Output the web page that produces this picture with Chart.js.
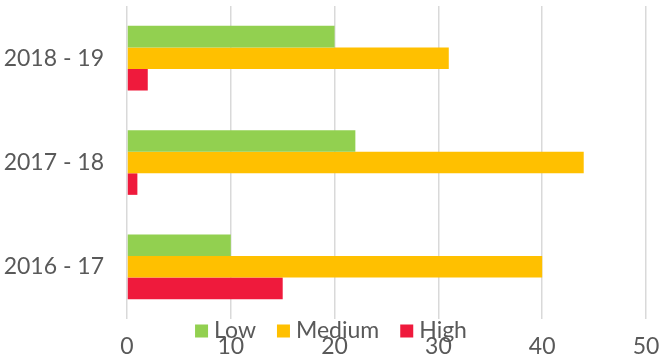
<!DOCTYPE html>
<html>
<head>
<meta charset="utf-8">
<script src="https://cdn.jsdelivr.net/npm/chart.js@4/dist/chart.umd.min.js"></script>
<style>
  body { margin: 0; background: #fff; }
  #wrap { width: 662px; height: 362px; }
</style>
</head>
<body>
<div id="wrap"><canvas id="chart" width="662" height="362"></canvas></div>
<script>
// Data
const years = ['2018 - 19', '2017 - 18', '2016 - 17'];
const lowValues = [20, 22, 10];
const mediumValues = [31, 44, 40];
const highValues = [2, 1, 15];
const xTicks = [0, 10, 20, 30, 40, 50];

const FONT = 'Lato, "Open Sans", sans-serif';
const TEXT = '#595959';

/**
 * Legend drawn over the bottom of the chart (it overlaps the x tick labels in the original)
 */
const overlayLegend = {
    id: 'overlayLegend',
    afterDraw(chart) {
        const ctx = chart.ctx;
        const box = 13, gap = 6, spacing = 21;
        ctx.save();
        ctx.font = '23px ' + FONT;
        ctx.textBaseline = 'middle';
        const items = chart.data.datasets.map(ds => ({
            label: ds.label,
            color: ds.backgroundColor,
            w: box + gap + ctx.measureText(ds.label).width
        }));
        const total = items.reduce((a, it) => a + it.w, 0) + spacing * (items.length - 1);
        let x = chart.width / 2 - total / 2;
        const y = 331;
        items.forEach(it => {
            ctx.fillStyle = it.color;
            ctx.fillRect(x, y - box / 2, box, box);
            ctx.fillStyle = TEXT;
            ctx.fillText(it.label, x + box + gap, y);
            x += it.w + spacing;
        });
        ctx.restore();
    }
};

// keep the chart area where the original has it: no extra room for label overhang
function noOverhang(scale) {
    scale.paddingTop = 0;
    scale.paddingBottom = 0;
    scale.paddingLeft = 0;
    scale.paddingRight = 0;
}

new Chart(document.getElementById('chart').getContext('2d'), {
    type: 'bar',
    data: {
        labels: years,
        datasets: [
            { label: 'Low', data: lowValues, backgroundColor: '#92d050' },
            { label: 'Medium', data: mediumValues, backgroundColor: '#ffc000' },
            { label: 'High', data: highValues, backgroundColor: '#ef1a3c' }
        ]
    },
    options: {
        indexAxis: 'y',
        responsive: false,
        animation: false,
        barPercentage: 1,
        categoryPercentage: 0.62,
        layout: { padding: { top: 6, right: 16, left: 0, bottom: 0 } },
        plugins: {
            legend: { display: false },
            tooltip: { enabled: false }
        },
        scales: {
            x: {
                min: 0,
                max: 50,
                afterBuildTicks: scale => { scale.ticks = xTicks.map(v => ({ value: v })); },
                afterFit: scale => { scale.height = 43; noOverhang(scale); },
                grid: { color: '#d9d9d9', lineWidth: 1.5, drawTicks: false },
                border: { display: false },
                ticks: {
                    padding: 14,
                    color: TEXT,
                    font: { family: FONT, size: 23 }
                }
            },
            y: {
                afterFit: scale => { scale.width = 127; noOverhang(scale); },
                grid: { display: false, drawTicks: false },
                border: { display: false },
                ticks: {
                    padding: 23,
                    color: TEXT,
                    font: { family: FONT, size: 23 }
                }
            }
        }
    },
    plugins: [overlayLegend]
});
</script>
</body>
</html>
